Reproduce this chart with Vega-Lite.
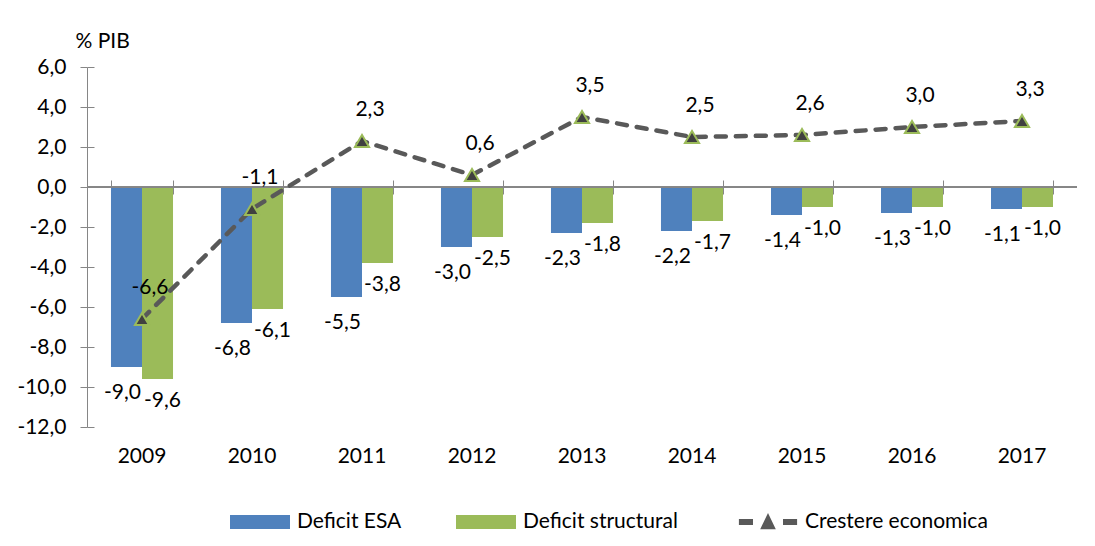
{
  "$schema": "https://vega.github.io/schema/vega-lite/v6.json",
  "width": 990,
  "height": 360,
  "autosize": {"type": "none"},
  "padding": {"left": 87, "top": 67, "right": 18, "bottom": 119},
  "background": "white",
  "config": {
    "locale": {"number": {"decimal": ",", "thousands": ".", "grouping": [3], "currency": ["", ""], "minus": "-"}},
    "view": {"stroke": null},
    "font": "Lato",
    "text": {"font": "Lato", "fontSize": 21, "color": "#000000"},
    "axis": {"labelFont": "Lato", "labelFontSize": 21, "labelColor": "#000000", "domainColor": "#868686", "tickColor": "#868686", "grid": false}
  },
  "data": {"values": [
    {"year": "2009", "series": "Deficit ESA", "value": -9.0},
    {"year": "2010", "series": "Deficit ESA", "value": -6.8},
    {"year": "2011", "series": "Deficit ESA", "value": -5.5},
    {"year": "2012", "series": "Deficit ESA", "value": -3.0},
    {"year": "2013", "series": "Deficit ESA", "value": -2.3},
    {"year": "2014", "series": "Deficit ESA", "value": -2.2},
    {"year": "2015", "series": "Deficit ESA", "value": -1.4},
    {"year": "2016", "series": "Deficit ESA", "value": -1.3},
    {"year": "2017", "series": "Deficit ESA", "value": -1.1},
    {"year": "2009", "series": "Deficit  structural", "value": -9.6},
    {"year": "2010", "series": "Deficit  structural", "value": -6.1},
    {"year": "2011", "series": "Deficit  structural", "value": -3.8},
    {"year": "2012", "series": "Deficit  structural", "value": -2.5},
    {"year": "2013", "series": "Deficit  structural", "value": -1.8},
    {"year": "2014", "series": "Deficit  structural", "value": -1.7},
    {"year": "2015", "series": "Deficit  structural", "value": -1.0},
    {"year": "2016", "series": "Deficit  structural", "value": -1.0},
    {"year": "2017", "series": "Deficit  structural", "value": -1.0},
    {"year": "2009", "series": "Crestere economica", "value": -6.6},
    {"year": "2010", "series": "Crestere economica", "value": -1.1},
    {"year": "2011", "series": "Crestere economica", "value": 2.3},
    {"year": "2012", "series": "Crestere economica", "value": 0.6},
    {"year": "2013", "series": "Crestere economica", "value": 3.5},
    {"year": "2014", "series": "Crestere economica", "value": 2.5},
    {"year": "2015", "series": "Crestere economica", "value": 2.6},
    {"year": "2016", "series": "Crestere economica", "value": 3.0},
    {"year": "2017", "series": "Crestere economica", "value": 3.3}
  ]},
  "layer": [
    {
      "transform": [{"filter": "datum.series !== 'Crestere economica'"}],
      "mark": {"type": "bar"},
      "encoding": {
        "x": {"field": "year", "type": "ordinal",
          "scale": {"paddingInner": 0.436, "paddingOuter": 0.218},
          "axis": {"orient": "bottom", "offset": -247, "domain": false, "labels": false, "ticks": true, "tickSize": 14, "tickBand": "extent", "title": null}},
        "xOffset": {"field": "series", "type": "nominal", "scale": {"domain": ["Deficit ESA", "Deficit  structural"], "paddingInner": 0, "paddingOuter": 0}},
        "y": {"field": "value", "type": "quantitative",
          "scale": {"domain": [-12, 6], "nice": false, "zero": false},
          "axis": {"orient": "left", "values": [-12, -10, -8, -6, -4, -2, 0, 2, 4, 6], "format": ".1f", "tickSize": 7, "labelPadding": 14,
            "title": "% PIB", "titleAngle": 0, "titleAlign": "left", "titleBaseline": "alphabetic", "titleX": -12, "titleY": -20,
            "titleFont": "Lato", "titleFontSize": 21, "titleFontWeight": "normal", "titleColor": "#000000"}},
        "color": {"field": "series", "type": "nominal",
          "scale": {"domain": ["Deficit ESA", "Deficit  structural", "Crestere economica"], "range": ["#4F81BD", "#9BBB59", "#595959"]},
          "legend": {"orient": "none", "legendX": 143, "legendY": 425, "direction": "horizontal", "title": null,
            "symbolSize": 3600, "labelFontSize": 21, "labelFont": "Lato", "labelColor": "#000000", "labelOffset": 7, "columnPadding": 54, "labelLimit": 400,
            "encode": {"symbols": {"update": {
              "shape": {"signal": "datum.value === 'Crestere economica' ? 'M-0.97,-0.1H-0.5V0.1H-0.97Z M0.5,-0.1H0.97V0.1H0.5Z M-0.26,0.24L0,-0.3L0.26,0.24Z' : 'M-1,-0.233H1V0.233H-1Z'"},
              "fill": {"scale": "color", "field": "value"},
              "stroke": {"value": "transparent"},
              "strokeWidth": {"value": 0},
              "opacity": {"value": 1}
            }}}}}
      }
    },
    {
      "mark": {"type": "rule", "color": "#868686", "strokeWidth": 1},
      "encoding": {"y": {"datum": 0, "type": "quantitative", "axis": null}}
    },
    {
      "transform": [{"filter": "datum.series === 'Deficit ESA'"}],
      "mark": {"type": "text", "baseline": "middle", "align": "center", "dy": 26, "dx": -4},
      "encoding": {
        "x": {"field": "year", "type": "ordinal", "axis": null},
        "xOffset": {"field": "series", "type": "nominal"},
        "y": {"field": "value", "type": "quantitative", "axis": null},
        "text": {"field": "value", "type": "quantitative", "format": ".1f"}
      }
    },
    {
      "transform": [{"filter": "datum.series === 'Deficit  structural'"}],
      "mark": {"type": "text", "baseline": "middle", "align": "center", "dy": 22, "dx": 5},
      "encoding": {
        "x": {"field": "year", "type": "ordinal", "axis": null},
        "xOffset": {"field": "series", "type": "nominal"},
        "y": {"field": "value", "type": "quantitative", "axis": null},
        "text": {"field": "value", "type": "quantitative", "format": ".1f"}
      }
    },
    {
      "transform": [{"filter": "datum.series === 'Crestere economica'"}],
      "mark": {"type": "line", "strokeWidth": 4.5, "strokeDash": [10, 10], "strokeCap": "round"},
      "encoding": {
        "x": {"field": "year", "type": "ordinal",
          "axis": {"orient": "bottom", "domain": false, "ticks": false, "labelPadding": 18, "labelAngle": 0, "title": null}},
        "y": {"field": "value", "type": "quantitative",
          "axis": {"orient": "left", "offset": -7, "domain": false, "labels": false, "ticks": true, "tickSize": 7, "values": [-12, -10, -8, -6, -4, -2, 0, 2, 4, 6], "title": null}},
        "color": {"field": "series", "type": "nominal"}
      }
    },
    {
      "transform": [{"filter": "datum.series === 'Crestere economica'"}],
      "mark": {"type": "point", "shape": "triangle-up", "filled": true, "fill": "#404040", "stroke": "#9BBB59", "strokeWidth": 2, "size": 200, "opacity": 1},
      "encoding": {
        "x": {"field": "year", "type": "ordinal", "axis": null},
        "y": {"field": "value", "type": "quantitative", "axis": null}
      }
    },
    {
      "transform": [{"filter": "datum.series === 'Crestere economica'"}],
      "mark": {"type": "text", "baseline": "middle", "align": "center", "dx": 8, "dy": -31},
      "encoding": {
        "x": {"field": "year", "type": "ordinal", "axis": null},
        "y": {"field": "value", "type": "quantitative", "axis": null},
        "text": {"field": "value", "type": "quantitative", "format": ".1f"}
      }
    }
  ],
  "resolve": {"axis": {"x": "independent", "y": "independent"}}
}
